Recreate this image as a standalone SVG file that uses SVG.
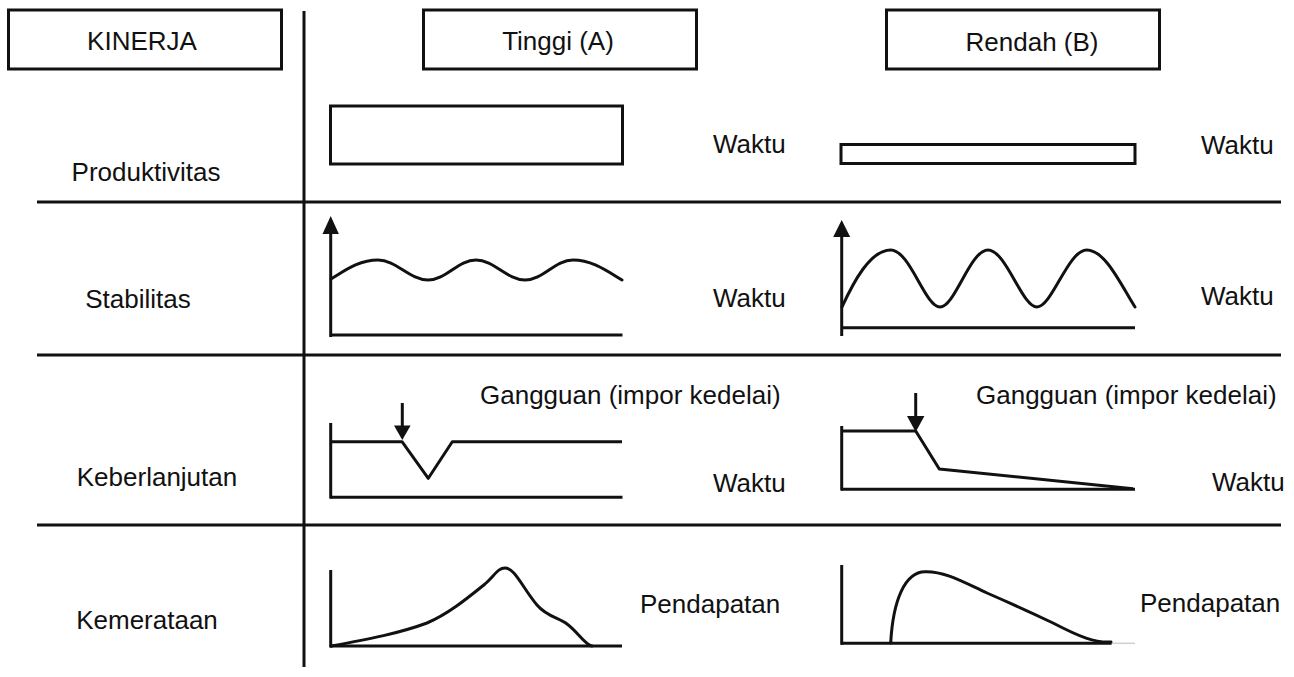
<svg xmlns="http://www.w3.org/2000/svg" width="1294" height="677" viewBox="0 0 1294 677">
<style>
  text { font-family: "Liberation Sans", Arial, sans-serif; font-size: 26px; fill: #111; }
  .c { text-anchor: middle; }
  .box { fill: #fff; stroke: #111; stroke-width: 3; }
  .grid { stroke: #111; stroke-width: 3; fill: none; }
  .ax { stroke: #111; stroke-width: 3; fill: none; }
  .crv { stroke: #111; stroke-width: 3; fill: none; stroke-linejoin: round; stroke-linecap: round; }
  .head { fill: #111; stroke: none; }
</style>
<rect width="1294" height="677" fill="#fff"/>

<g id="grid">
  <line class="grid" x1="304" y1="11" x2="304" y2="667"/>
  <line class="grid" x1="37" y1="202" x2="1281" y2="202"/>
  <line class="grid" x1="37" y1="355" x2="1281" y2="355"/>
  <line class="grid" x1="37" y1="525" x2="1281" y2="525"/>
</g>

<g id="header-kinerja">
  <rect class="box" x="8.5" y="10" width="273" height="59"/>
  <text class="c" x="142" y="50">KINERJA</text>
</g>
<g id="header-tinggi">
  <rect class="box" x="423.5" y="10" width="273" height="59"/>
  <text class="c" x="558" y="50">Tinggi (A)</text>
</g>
<g id="header-rendah">
  <rect class="box" x="886.5" y="10" width="273" height="59"/>
  <text class="c" x="1032" y="51">Rendah (B)</text>
</g>

<g id="row-produktivitas">
  <text class="c" x="146" y="181">Produktivitas</text>
  <rect class="box" x="330.5" y="106" width="292" height="58"/>
  <text x="713" y="153">Waktu</text>
  <rect class="box" x="841" y="144.5" width="294" height="19"/>
  <text x="1201" y="154">Waktu</text>
</g>

<g id="row-stabilitas">
  <text class="c" x="138" y="308">Stabilitas</text>
  <line class="ax" x1="330.7" y1="230" x2="330.7" y2="337"/>
  <polygon class="head" points="330.7,216 322.5,234 338.9,234"/>
  <line class="ax" x1="330" y1="335" x2="622.5" y2="335"/>
  <path class="crv" d="M331,279 C343,272 358,260 378,260 C396,260 410,280 428,280 C446,280 458,260 476,260 C494,260 507,280 525,280 C543,280 555,260 573,260 C592,260 607,271 622,280"/>
  <text x="713" y="307">Waktu</text>

  <line class="ax" x1="841.7" y1="234" x2="841.7" y2="336"/>
  <polygon class="head" points="841.7,220 833.2,237 850.2,237"/>
  <line class="ax" x1="841" y1="327.7" x2="1135" y2="327.7"/>
  <path class="crv" d="M842,307 C853,283 870,250 890.7,250 C910,250 925,307 940,307 C955,307 970,250 988,250 C1006,250 1022,307 1037,307 C1052,307 1068,250 1086.7,250 C1105,250 1120,283 1135,307"/>
  <text x="1201" y="305">Waktu</text>
</g>

<g id="row-keberlanjutan">
  <text class="c" x="157" y="486">Keberlanjutan</text>
  <text x="480" y="404">Gangguan (impor kedelai)</text>
  <line class="ax" x1="330.7" y1="423" x2="330.7" y2="498.5"/>
  <line class="ax" x1="330" y1="497.3" x2="622.5" y2="497.3"/>
  <polyline class="crv" points="330.7,441.7 402,441.7 428.3,478.3 452.3,441.7 622,441.7" style="stroke-linecap:butt"/>
  <line class="ax" x1="402.3" y1="403" x2="402.3" y2="428"/>
  <polygon class="head" points="402.3,440 394,425.5 410.6,425.5"/>
  <text x="713" y="492">Waktu</text>

  <text x="976" y="404">Gangguan (impor kedelai)</text>
  <line class="ax" x1="841.7" y1="426" x2="841.7" y2="490.5"/>
  <line class="ax" x1="841" y1="489.3" x2="1135" y2="489.3"/>
  <polyline class="crv" points="841.7,431 915.7,431 939.3,469 1133,488.7" style="stroke-linecap:butt"/>
  <line class="ax" x1="915.7" y1="393" x2="915.7" y2="420"/>
  <polygon class="head" points="915.7,432 907,416 924.4,416"/>
  <text x="1212" y="491">Waktu</text>
</g>

<g id="row-kemerataan">
  <text class="c" x="147" y="629">Kemerataan</text>
  <line class="ax" x1="330.7" y1="570" x2="330.7" y2="647.5"/>
  <line class="ax" x1="330" y1="646" x2="622" y2="646"/>
  <path class="crv" d="M331,646 C370,639 400,633 427,623 C450,613 470,596 485,584 C495,575 498,568 505,568 C515,568 522,587 537,605 C547,617 560,618 567,624 C578,632 585,645 592,646"/>
  <text x="640" y="613">Pendapatan</text>

  <line class="ax" x1="841.7" y1="565" x2="841.7" y2="644.8"/>
  <line class="ax" x1="841" y1="643.3" x2="1111.7" y2="643.3"/>
  <line x1="1111.7" y1="643.3" x2="1135" y2="643.3" stroke="#d0d0d0" stroke-width="1.5"/>
  <path class="crv" d="M890.7,643 C893,600 905,572 925,571.7 C945,571 965,583 987,593 C1010,603 1030,612 1053,623 C1080,637 1095,643 1111,642"/>
  <text x="1140" y="612">Pendapatan</text>
</g>
</svg>
